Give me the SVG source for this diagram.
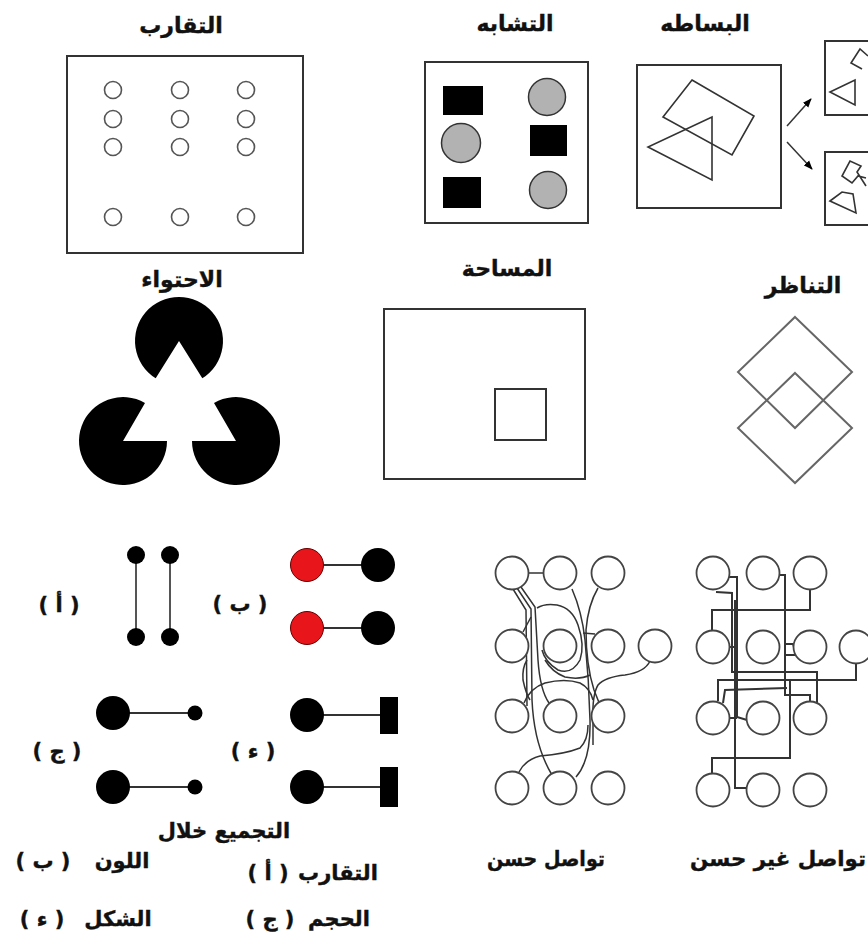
<svg xmlns="http://www.w3.org/2000/svg" width="868" height="944" viewBox="0 0 868 944">
<style>
text{font-family:"DejaVu Sans","Noto Sans",sans-serif;font-weight:bold;fill:#111;stroke:#111;stroke-width:0.4}
.t{font-size:22px;text-anchor:middle}
.b{font-size:21px;text-anchor:middle}
.box{fill:none;stroke:#333;stroke-width:2}
.thin{fill:none;stroke:#333;stroke-width:1.6}
.pc{fill:#fff;stroke:#555;stroke-width:1.6}
.gray{fill:#b2b2b2;stroke:#333;stroke-width:1.5}
.blk{fill:#000}
.red{fill:#e8161b;stroke:#600;stroke-width:1}
.dia{fill:none;stroke:#666;stroke-width:2}
.gn{fill:#fff;stroke:#444;stroke-width:1.8}
.gl{fill:none;stroke:#333;stroke-width:1.5}
.gr{fill:none;stroke:#333;stroke-width:2}
.ln{stroke:#333;stroke-width:2}
</style>
<defs>
<marker id="ah" viewBox="0 0 10 10" refX="9" refY="5" markerWidth="6" markerHeight="6" orient="auto">
<path d="M0,1 L10,5 L0,9 z" fill="#000"/>
</marker>
</defs>
<rect width="868" height="944" fill="#fff"/>

<!-- Proximity -->
<g id="proximity">
<text class="t" x="181" y="33">التقارب</text>
<rect class="box" x="67" y="56" width="236" height="197"/>
<g>
<circle class="pc" cx="113" cy="90" r="8.5"/><circle class="pc" cx="180" cy="90" r="8.5"/><circle class="pc" cx="246" cy="90" r="8.5"/>
<circle class="pc" cx="113" cy="119" r="8.5"/><circle class="pc" cx="180" cy="119" r="8.5"/><circle class="pc" cx="246" cy="119" r="8.5"/>
<circle class="pc" cx="113" cy="147" r="8.5"/><circle class="pc" cx="180" cy="147" r="8.5"/><circle class="pc" cx="246" cy="147" r="8.5"/>
<circle class="pc" cx="113" cy="217" r="8.5"/><circle class="pc" cx="180" cy="217" r="8.5"/><circle class="pc" cx="246" cy="217" r="8.5"/>
</g>
</g>

<!-- Similarity -->
<g id="similarity">
<text class="t" x="515" y="31">التشابه</text>
<rect class="box" x="425" y="62" width="163" height="161"/>
<rect class="blk" x="443" y="86" width="40" height="29"/>
<rect class="blk" x="530" y="125" width="37" height="31"/>
<rect class="blk" x="443" y="177" width="38" height="31"/>
<circle class="gray" cx="547" cy="97" r="18.5"/>
<circle class="gray" cx="461" cy="143" r="19.5"/>
<circle class="gray" cx="548" cy="190" r="18.5"/>
</g>

<!-- Simplicity -->
<g id="simplicity">
<text class="t" x="705" y="31">البساطه</text>
<rect class="box" x="637" y="65" width="144" height="143"/>
<polygon class="thin" points="692,80 754,116 732,155 663,117"/>
<polygon class="thin" points="712,117 712,180 648,147"/>
</g>
<g id="simplicity-part1">
<rect class="box" x="825" y="41" width="60" height="74"/>
<polyline class="thin" points="868,56 860,49 851,63 862,69"/>
<polygon class="thin" points="830,92 855,80 855,105"/>
</g>
<g id="simplicity-part2">
<rect class="box" x="825" y="152" width="60" height="73"/>
<polyline class="thin" points="866,186 857,172 861,166 850,161 842,176 852,183 858,176 866,178"/>
<polygon class="thin" points="830,201 842,192 853,194 856,213"/>
</g>

<!-- Closure -->
<g id="closure">
<text class="t" x="182" y="287">الاحتواء</text>
<path class="blk" d="M179 341 L202.3 378.3 A44 44 0 1 0 155.7 378.3 Z"/>
<path class="blk" d="M123 441 L167 441 A44 44 0 1 1 145 402.9 Z"/>
<path class="blk" d="M236 441 L192 441 A44 44 0 1 0 214 402.9 Z"/>
</g>

<!-- Area -->
<g id="area">
<text class="t" x="507" y="276">المساحة</text>
<rect class="box" x="384" y="309" width="201" height="170"/>
<rect class="box" x="495" y="389" width="51" height="51"/>
</g>

<!-- Symmetry -->
<g id="symmetry">
<text class="t" x="803" y="293">التناظر</text>
<polygon class="dia" points="795,317 852,372 795,428 738,372"/>
<polygon class="dia" points="795,373 852,428 795,483 738,428"/>
</g>

<!-- Grouping examples -->
<g id="group-a">
<text class="b" x="59" y="612">( أ )</text>
<line class="ln" x1="136" y1="555" x2="136" y2="637" style="stroke:#555"/>
<line class="ln" x1="170" y1="555" x2="170" y2="637" style="stroke:#555"/>
<circle class="blk" cx="136" cy="555" r="9"/><circle class="blk" cx="170" cy="555" r="9"/>
<circle class="blk" cx="136" cy="637" r="9"/><circle class="blk" cx="170" cy="637" r="9"/>
</g>
<g id="group-b">
<text class="b" x="240" y="611">( ب )</text>
<line class="ln" x1="307" y1="565" x2="378" y2="565"/>
<line class="ln" x1="307" y1="628" x2="378" y2="628"/>
<circle class="red" cx="307" cy="565" r="16.5"/><circle class="blk" cx="378" cy="565" r="17"/>
<circle class="red" cx="307" cy="628" r="16.5"/><circle class="blk" cx="378" cy="628" r="17"/>
</g>
<g id="group-c">
<text class="b" x="57" y="758">( ج )</text>
<line class="ln" x1="113" y1="713" x2="195" y2="713"/>
<line class="ln" x1="113" y1="787" x2="195" y2="787"/>
<circle class="blk" cx="113" cy="713" r="17"/><circle class="blk" cx="195" cy="713" r="7.5"/>
<circle class="blk" cx="113" cy="787" r="17"/><circle class="blk" cx="195" cy="787" r="7.5"/>
</g>
<g id="group-d">
<text class="b" x="253" y="758">( ء )</text>
<line class="ln" x1="307" y1="715" x2="382" y2="715"/>
<line class="ln" x1="307" y1="787" x2="382" y2="787"/>
<circle class="blk" cx="307" cy="715" r="17"/><rect class="blk" x="380" y="697" width="18" height="37"/>
<circle class="blk" cx="307" cy="787" r="17"/><rect class="blk" x="380" y="767" width="18" height="40"/>
</g>
<g id="grouping-caption">
<text class="b" x="224" y="838">التجميع خلال</text>
<text class="b" x="43" y="868">( ب )</text>
<text class="b" x="122" y="868">اللون</text>
<text class="b" x="268" y="880">( أ )</text>
<text class="b" x="338" y="880">التقارب</text>
<text class="b" x="42" y="926">( ء )</text>
<text class="b" x="118" y="926">الشكل</text>
<text class="b" x="270" y="926">( ج )</text>
<text class="b" x="339" y="926">الحجم</text>
</g>

<!-- Connectors -->
<g id="connectors">
<line x1="787" y1="126" x2="811" y2="99" class="ln" style="stroke-width:1.5" marker-end="url(#ah)"/>
<line x1="787" y1="142" x2="812" y2="169" class="ln" style="stroke-width:1.5" marker-end="url(#ah)"/>
<g id="good-links">
<path class="gl" d="M528 573 L544 573"/>
<path class="gl" d="M513 589 L526 610 L527 706"/>
<path class="gl" d="M517 588 L531 609 L532 700 Q534 745 552 775"/>
<path class="gl" d="M521 587 L535 607 L538 660 Q540 690 549 703"/>
<path class="gl" d="M523 632 L531 617"/>
<path class="gl" d="M537 608 Q545 603 557 605 Q572 608 578 625 Q585 645 580 660 Q572 675 558 670 Q545 662 542 650"/>
<path class="gl" d="M545 660 Q552 672 565 677 Q580 680 590 675"/>
<path class="gl" d="M572 589 Q582 612 585 640 Q589 680 590 720 Q591 760 576 777"/>
<path class="gl" d="M598 588 Q588 605 586 630 Q586 665 594 690 Q598 700 600 705"/>
<path class="gl" d="M583 633 L595 634"/>
<path class="gl" d="M650 661 Q645 672 625 675 Q605 677 598 685 Q592 695 593 720 L593 745"/>
<path class="gl" d="M524 703 Q530 688 545 683 Q565 678 580 683 Q590 688 593 700"/>
<path class="gl" d="M519 772 Q525 760 540 756 Q565 754 580 748 Q588 740 588 725"/>
<path class="gl" d="M527 660 Q522 668 523 680 Q526 694 530 700"/>
</g>
<g id="bad-links">
<path class="gr" d="M716 592 L732 593 L732 672 L817 672 L817 704"/>
<path class="gr" d="M729 577 L737 577 L737 717 L747 720"/>
<path class="gr" d="M735 600 L735 788 L747 788"/>
<path class="gr" d="M810 589 L810 610 L712 610 L712 631"/>
<path class="gr" d="M779 575 L785 575 L785 695 L810 695 L810 702"/>
<path class="gr" d="M785 644 L793 644 L795 650 M785 655 L795 655"/>
<path class="gr" d="M856 663 L856 680 L718 680 L718 701"/>
<path class="gr" d="M723 703 L725 690 L787 688"/>
<path class="gr" d="M712 774 L712 758 L790 758 L790 680"/>
<path class="gr" d="M729 647 L737 647"/>
<path class="gr" d="M729 718 L737 718"/>
</g>
</g>

<!-- Good connection graph -->
<g id="good-graph">
<circle class="gn" cx="512" cy="573" r="16.5"/><circle class="gn" cx="560" cy="573" r="16.5"/><circle class="gn" cx="608" cy="573" r="16.5"/>
<circle class="gn" cx="512" cy="646" r="16.5"/><circle class="gn" cx="560" cy="646" r="16.5" style="fill:none"/><circle class="gn" cx="608" cy="646" r="16.5"/><circle class="gn" cx="655" cy="646" r="16.5"/>
<circle class="gn" cx="512" cy="716" r="16.5"/><circle class="gn" cx="560" cy="716" r="16.5"/><circle class="gn" cx="608" cy="716" r="16.5"/>
<circle class="gn" cx="512" cy="788" r="16.5"/><circle class="gn" cx="560" cy="788" r="16.5"/><circle class="gn" cx="608" cy="788" r="16.5"/>
<text class="b" x="546" y="866" textLength="118" lengthAdjust="spacingAndGlyphs">تواصل حسن</text>
</g>

<!-- Bad connection graph -->
<g id="bad-graph">
<circle class="gn" cx="713" cy="573" r="16.5"/><circle class="gn" cx="763" cy="573" r="16.5"/><circle class="gn" cx="810" cy="573" r="16.5"/>
<circle class="gn" cx="713" cy="647" r="16.5"/><circle class="gn" cx="763" cy="647" r="16.5"/><circle class="gn" cx="810" cy="647" r="16.5"/><circle class="gn" cx="856" cy="647" r="16.5"/>
<circle class="gn" cx="713" cy="718" r="16.5"/><circle class="gn" cx="763" cy="718" r="16.5"/><circle class="gn" cx="810" cy="718" r="16.5"/>
<circle class="gn" cx="713" cy="790" r="16.5"/><circle class="gn" cx="763" cy="790" r="16.5"/><circle class="gn" cx="810" cy="790" r="16.5"/>
<text class="b" x="778" y="866" textLength="176" lengthAdjust="spacingAndGlyphs">تواصل غير حسن</text>
</g>
</svg>
